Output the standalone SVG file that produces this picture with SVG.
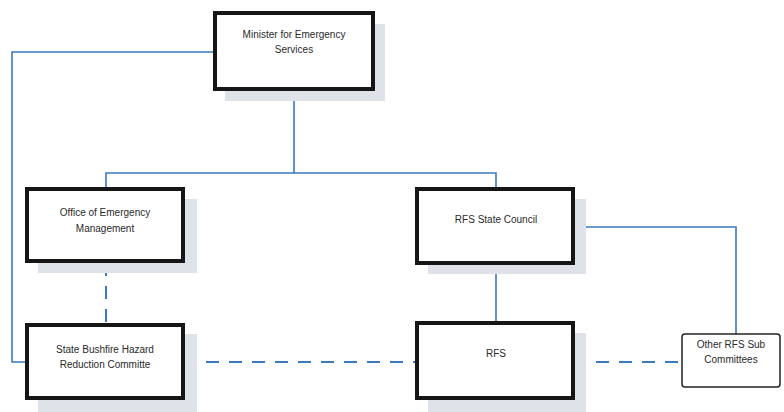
<svg xmlns="http://www.w3.org/2000/svg" width="784" height="412" viewBox="0 0 784 412">
<style>
.shadow{fill:#dfe2e8}
.box{fill:#fff;stroke:#161616;stroke-width:4}
.box2{fill:#fff;stroke:#222;stroke-width:1.5}
.t{font-family:"Liberation Sans",Arial,sans-serif;font-size:10px;fill:#2a2a2a;text-anchor:middle}
.ln{fill:none;stroke:#3b78c0;stroke-width:1.6}
.dash{stroke-dasharray:13 10;stroke-width:2}
</style>
<rect width="784" height="412" fill="#fff"/>
<g id="connectors">
<polyline class="ln" points="215,52 12,52 12,362 27,362"/>
<line class="ln" x1="294" y1="89" x2="294" y2="173"/>
<polyline class="ln" points="106,189 106,173 496,173 496,189"/>
<line class="ln" x1="496" y1="263" x2="496" y2="323"/>
<polyline class="ln" points="573,227 736,227 736,334"/>
<line class="ln dash" x1="106" y1="263" x2="106" y2="325"/>
<line class="ln dash" x1="183" y1="362" x2="417" y2="362"/>
<line class="ln dash" x1="573" y1="362" x2="682" y2="362"/>
</g>
<g id="minister">
<rect class="shadow" x="225" y="24" width="160" height="77"/>
<rect class="box" x="215" y="13" width="158" height="76"/>
<text class="t" x="294" y="38">Minister for Emergency</text>
<text class="t" x="294" y="53">Services</text>
</g>
<g id="office">
<rect class="shadow" x="38" y="199" width="159" height="74"/>
<rect class="box" x="27" y="189" width="156" height="72"/>
<text class="t" x="105" y="216">Office of Emergency</text>
<text class="t" x="105" y="232">Management</text>
</g>
<g id="council">
<rect class="shadow" x="428" y="199" width="158" height="75"/>
<rect class="box" x="417" y="189" width="156" height="74"/>
<text class="t" x="496" y="223">RFS State Council</text>
</g>
<g id="bushfire">
<rect class="shadow" x="38" y="334" width="159" height="78"/>
<rect class="box" x="27" y="325" width="156" height="73"/>
<text class="t" x="105" y="353">State Bushfire Hazard</text>
<text class="t" x="105" y="368">Reduction Committe</text>
</g>
<g id="rfs">
<rect class="shadow" x="428" y="333" width="158" height="79"/>
<rect class="box" x="417" y="323" width="156" height="75"/>
<text class="t" x="496" y="357">RFS</text>
</g>
<g id="other">
<rect class="box2" x="682" y="334" width="98" height="53" rx="3"/>
<text class="t" x="731" y="348">Other RFS Sub</text>
<text class="t" x="731" y="363">Committees</text>
</g>
</svg>
